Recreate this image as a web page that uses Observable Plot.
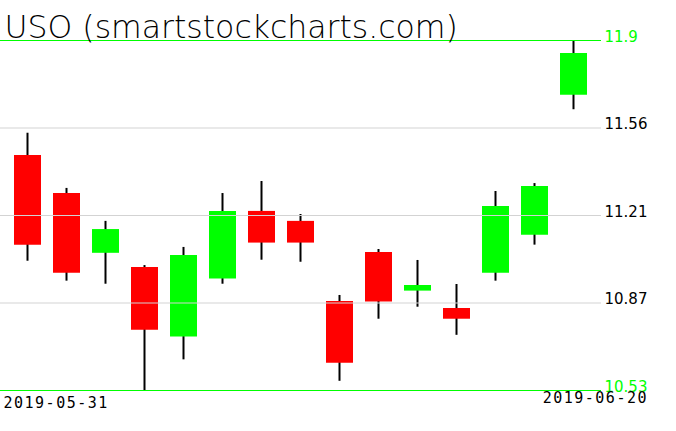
<!DOCTYPE html>
<html>
<head>
<meta charset="utf-8">
<script src="https://cdn.jsdelivr.net/npm/d3@7"></script>
<script src="https://cdn.jsdelivr.net/npm/@observablehq/plot@0.6"></script>
<style>
  html, body { margin: 0; padding: 0; background: #ffffff; }
  #chart svg { display: block; }
</style>
</head>
<body>
<div id="chart"></div>
<script>
const title = "USO (smartstockcharts.com)";
const dates = ["2019-05-31","2019-06-03","2019-06-04","2019-06-05","2019-06-06","2019-06-07","2019-06-10","2019-06-11","2019-06-12","2019-06-13","2019-06-14","2019-06-17","2019-06-18","2019-06-19","2019-06-20"];
const opens  = [11.450, 11.301, 11.067, 11.011, 10.739, 10.966, 11.231, 11.192, 10.878, 11.070, 10.919, 10.851, 10.989, 11.138, 11.686];
const highs  = [11.537, 11.321, 11.192, 11.019, 11.090, 11.301, 11.348, 11.219, 10.902, 11.082, 11.039, 10.945, 11.309, 11.340, 11.897];
const lows   = [11.036, 10.958, 10.946, 10.530, 10.650, 10.946, 11.040, 11.032, 10.566, 10.809, 10.856, 10.746, 10.958, 11.099, 11.629];
const closes = [11.099, 10.989, 11.160, 10.766, 11.058, 11.231, 11.107, 11.107, 10.637, 10.876, 10.941, 10.809, 11.250, 11.329, 11.849];
const yMin = 10.53, yMax = 11.9;
const gridValues = [10.8725, 11.215, 11.5575];
const gridLabels = ["10.87", "11.21", "11.56"];
const edgeValues = [10.53, 11.9];
const edgeLabels = ["10.53", "11.9"];

const candles = dates.map((d, i) => ({date: d, open: opens[i], high: highs[i], low: lows[i], close: closes[i]}));
const grid = gridValues.map((v, i) => ({value: v, label: gridLabels[i]}));
const edges = edgeValues.map((v, i) => ({value: v, label: edgeLabels[i]}));

const chart = Plot.plot({
  width: 676,
  height: 431,
  marginLeft: 0,
  marginRight: 75,
  marginTop: 0,
  marginBottom: 0,
  style: {fontFamily: "DejaVu Sans", background: "#ffffff", color: "#000000"},
  x: {type: "point", domain: dates, range: [26.3, 574.5], padding: 0, axis: null},
  y: {domain: [yMin, yMax], range: [390, 40], axis: null},
  marks: [
    Plot.ruleX(candles, {x: "date", y1: "low", y2: "high", stroke: "#000000", strokeWidth: 2}),
    Plot.ruleX(candles, {x: "date", y1: "open", y2: "close", strokeWidth: 27,
      stroke: d => d.close >= d.open ? "#00ff00" : "#ff0000"}),
    Plot.ruleY(grid, {y: "value", stroke: "#d3d3d3", strokeWidth: 1}),
    Plot.ruleY(edges, {y: "value", stroke: "#00ff00", strokeWidth: 1}),
    Plot.text(grid, {y: "value", text: "label", frameAnchor: "right", textAnchor: "start", lineAnchor: "bottom",
      dx: 3, dy: 1, fontSize: 15, fill: "#000000"}),
    Plot.text(edges, {y: "value", text: "label", frameAnchor: "right", textAnchor: "start", lineAnchor: "bottom",
      dx: 3, dy: 1, fontSize: 15, fill: "#00ff00"}),
    Plot.text([title], {text: d => d, frameAnchor: "top-left", textAnchor: "start", lineAnchor: "bottom",
      dx: 4, dy: 37, fontSize: 31.5, fontWeight: 200, fill: "#000000"}),
    Plot.text([dates[0]], {text: d => d, frameAnchor: "top-left", textAnchor: "start", lineAnchor: "bottom",
      dx: 3, dy: 407, fontSize: 15, fontFamily: "DejaVu Sans Mono", fill: "#000000"}),
    Plot.text([dates[dates.length - 1]], {text: d => d, frameAnchor: "top-right", textAnchor: "end", lineAnchor: "bottom",
      dx: 46.5, dy: 402, fontSize: 15, fontFamily: "DejaVu Sans Mono", fill: "#000000"})
  ]
});
chart.querySelectorAll("text").forEach(t => {
  if (/^\d{4}-\d{2}-\d{2}$/.test(t.textContent)) t.setAttribute("letter-spacing", "1.5");
});
document.getElementById("chart").appendChild(chart);
</script>
</body>
</html>
